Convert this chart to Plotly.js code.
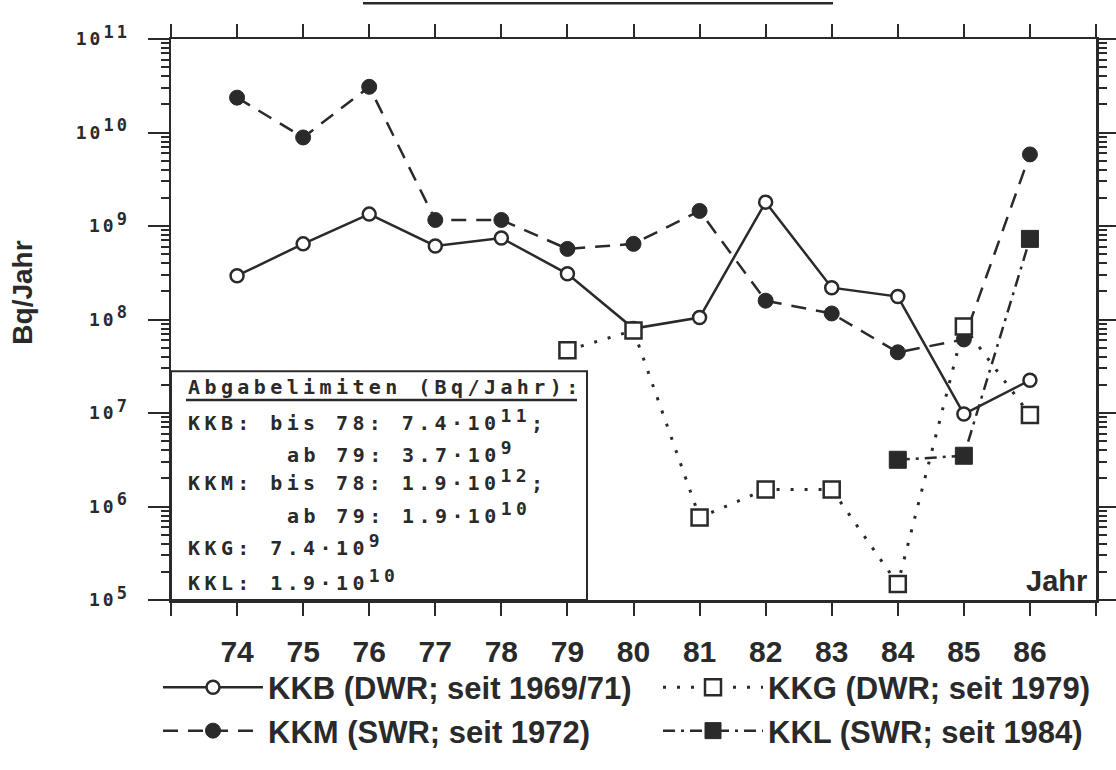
<!DOCTYPE html>
<html>
<head>
<meta charset="utf-8">
<script src="https://cdn.plot.ly/plotly-3.0.1.min.js"></script>
<style>
  html, body { margin: 0; padding: 0; background: #fff; }
  .ytick text { letter-spacing: 3px; }
  .infolayer .annotation text { letter-spacing: 4.4px; }
  .infolayer .annotation[data-index="7"] text,
  .infolayer .annotation[data-index="8"] text { letter-spacing: 0px; }
</style>
</head>
<body>
<div id="chart" style="width:1116px;height:770px;"></div>
<script>
// ---- data ----
const years = [74, 75, 76, 77, 78, 79, 80, 81, 82, 83, 84, 85, 86];
const kkb = [2.94e8, 6.44e8, 1.34e9, 6.12e8, 7.45e8, 3.08e8, 8.0e7, 1.05e8, 1.80e9, 2.19e8, 1.76e8, 9.75e6, 2.24e7];
const kkm = [2.36e10, 8.85e9, 3.08e10, 1.16e9, 1.16e9, 5.69e8, 6.44e8, 1.45e9, 1.59e8, 1.16e8, 4.46e7, 6.12e7, 5.83e9];
const yearsKKG = [79, 80, 81, 82, 83, 84, 85, 86];
const kkg = [4.68e7, 7.64e7, 7.64e5, 1.52e6, 1.52e6, 1.48e5, 8.43e7, 9.53e6];
const yearsKKL = [84, 85, 86];
const kkl = [3.16e6, 3.49e6, 7.28e8];

const seriesNames = [
  'KKB (DWR; seit 1969/71)',
  'KKM (SWR; seit 1972)',
  'KKG (DWR; seit 1979)',
  'KKL (SWR; seit 1984)'
];

const xTickVals = [73, 74, 75, 76, 77, 78, 79, 80, 81, 82, 83, 84, 85, 86, 87];
const xTickText = ['', '74', '75', '76', '77', '78', '79', '80', '81', '82', '83', '84', '85', '86', ''];
const yExponents = [5, 6, 7, 8, 9, 10, 11];

const limitTitle = 'Abgabelimiten (Bq/Jahr):';
const limitLines = [
  ['KKB: bis 78: 7.4·10', '11', ';'],
  ['ab 79: 3.7·10', '9', ''],
  ['KKM: bis 78: 1.9·10', '12', ';'],
  ['ab 79: 1.9·10', '10', ''],
  ['KKG: 7.4·10', '9', ''],
  ['KKL: 1.9·10', '10', '']
];
const limitIndent = [false, true, false, true, false, false];

// ---- styling ----
const INK = '#2a2a2a';
const NARROW = '"Liberation Sans", Arial, sans-serif';
const MONO = '"DejaVu Sans Mono", "Liberation Mono", monospace';
const BOLD = '"Liberation Sans", "DejaVu Sans", sans-serif';

// plot area in pixels: x 171..1096, y 39..603
const L = 171, R = 1096, T = 39, B = 603;
const px = v => (v - L) / (R - L);
const py = v => (B - v) / (B - T);
const supBig = (s, size) => '<sup><span style="font-size:' + size + 'px">' + s + '</span></sup>';

const traces = [
  {
    x: years, y: kkb, name: seriesNames[0], legend: 'legend',
    mode: 'lines+markers', type: 'scatter',
    line: { color: INK, width: 2.5, dash: 'solid' },
    marker: { symbol: 'circle', size: 13, color: '#fff', line: { color: INK, width: 2.5 } }
  },
  {
    x: years, y: kkm, name: seriesNames[1], legend: 'legend',
    mode: 'lines+markers', type: 'scatter',
    line: { color: INK, width: 2.5, dash: '15px,10px' },
    marker: { symbol: 'circle', size: 15, color: INK, line: { color: INK, width: 1 } }
  },
  {
    x: yearsKKG, y: kkg, name: seriesNames[2], legend: 'legend2',
    mode: 'lines+markers', type: 'scatter',
    line: { color: INK, width: 3, dash: '3px,11px' },
    marker: { symbol: 'square', size: 16, color: '#fff', line: { color: INK, width: 2.5 } }
  },
  {
    x: yearsKKL, y: kkl, name: seriesNames[3], legend: 'legend2',
    mode: 'lines+markers', type: 'scatter',
    line: { color: INK, width: 2.5, dash: '12px,6px,3px,6px' },
    marker: { symbol: 'square', size: 17, color: INK, line: { color: INK, width: 1 } }
  }
];

const annotations = [];
annotations.push({
  xref: 'paper', yref: 'paper', x: px(186), y: py(389),
  xanchor: 'left', yanchor: 'middle', showarrow: false, align: 'left',
  text: limitTitle, font: { family: MONO, size: 20, color: INK, weight: 'bold' }
});
const lineCenters = [422.5, 454, 482.5, 516, 547.5, 582.5];
limitLines.forEach((p, i) => {
  annotations.push({
    xref: 'paper', yref: 'paper', x: px(limitIndent[i] ? 285 : 186), y: py(lineCenters[i]),
    xanchor: 'left', yanchor: 'middle', showarrow: false, align: 'left',
    text: p[0] + supBig(p[1], 18) + p[2],
    font: { family: MONO, size: 20, color: INK, weight: 'bold' }
  });
});
annotations.push({
  xref: 'paper', yref: 'paper', x: px(1089), y: py(584),
  xanchor: 'right', yanchor: 'middle', showarrow: false,
  text: 'Jahr', font: { family: BOLD, size: 29, color: INK, weight: 'bold' }
});
annotations.push({
  xref: 'paper', yref: 'paper', x: px(23), y: py(294),
  xanchor: 'center', yanchor: 'middle', showarrow: false, textangle: -90,
  text: 'Bq/Jahr', font: { family: BOLD, size: 28, color: INK, weight: 'bold' }
});

const shapes = [
  { type: 'rect', xref: 'paper', yref: 'paper', x0: 0, x1: px(587), y0: 0, y1: py(373),
    line: { color: INK, width: 2 }, fillcolor: 'rgba(0,0,0,0)' },
  { type: 'line', xref: 'paper', yref: 'paper', x0: px(186), x1: px(577), y0: py(402), y1: py(402),
    line: { color: INK, width: 2.5 } },
  { type: 'line', xref: 'paper', yref: 'paper', x0: px(363), x1: px(833), y0: py(3), y1: py(3),
    line: { color: INK, width: 2.5 } }
];

const legendFont = { family: NARROW, size: 31, color: INK, weight: 'bold' };
const layout = {
  width: 1116, height: 770, autosize: false,
  margin: { l: L, r: 1116 - R, t: T, b: 770 - B, pad: 0 },
  paper_bgcolor: '#fff', plot_bgcolor: '#fff',
  showlegend: true,
  legend: {
    orientation: 'v', x: px(158), xanchor: 'left', y: py(664), yanchor: 'top',
    traceorder: 'normal', font: legendFont, bgcolor: 'rgba(0,0,0,0)', itemwidth: 100
  },
  legend2: {
    orientation: 'v', x: px(658), xanchor: 'left', y: py(664), yanchor: 'top',
    traceorder: 'normal', font: legendFont, bgcolor: 'rgba(0,0,0,0)', itemwidth: 100
  },
  xaxis: {
    range: [73, 87], tickmode: 'array', tickvals: xTickVals, ticktext: xTickText,
    ticks: 'outside', ticklen: 13, tickwidth: 2, tickcolor: INK,
    showline: true, linecolor: INK, linewidth: 2.5, mirror: 'allticks',
    showgrid: false, zeroline: false, ticklabelstandoff: 10,
    tickfont: { family: NARROW, size: 30, color: INK, weight: 'bold' }
  },
  yaxis: {
    type: 'log', range: [5, 11], tickmode: 'array',
    tickvals: yExponents.map(e => Math.pow(10, e)),
    ticktext: yExponents.map(e => '10' + supBig(e, 17)),
    ticks: 'outside', ticklen: 21, tickwidth: 2, tickcolor: INK,
    minor: { ticks: 'outside', ticklen: 8, tickwidth: 2, tickcolor: INK, dtick: 'D1' },
    showline: true, linecolor: INK, linewidth: 2.5, mirror: 'allticks',
    showgrid: false, zeroline: false, ticklabelstandoff: 14,
    tickfont: { family: MONO, size: 18, color: INK, weight: 'bold' }
  },
  annotations: annotations,
  shapes: shapes
};

Plotly.newPlot('chart', traces, layout, { displayModeBar: false, staticPlot: true });
</script>
</body>
</html>
